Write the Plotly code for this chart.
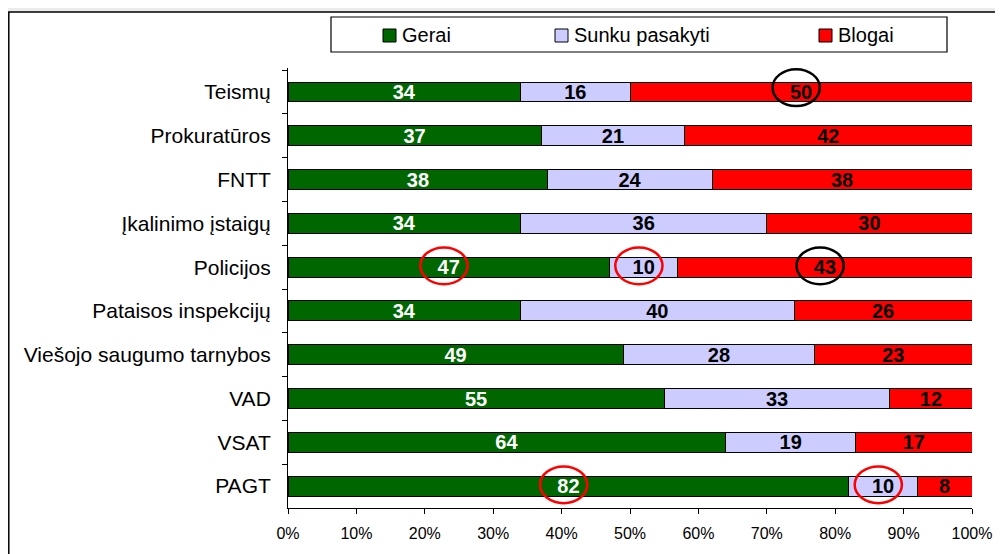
import plotly.graph_objects as go

# data
kategorijos = ['Teismų', 'Prokuratūros', 'FNTT', 'Įkalinimo įstaigų', 'Policijos',
               'Pataisos inspekcijų', 'Viešojo saugumo tarnybos', 'VAD', 'VSAT', 'PAGT']
gerai = [34, 37, 38, 34, 47, 34, 49, 55, 64, 82]
sunku = [16, 21, 24, 36, 10, 40, 28, 33, 19, 10]
blogai = [50, 42, 38, 30, 43, 26, 23, 12, 17, 8]
serijos = ['Gerai', 'Sunku pasakyti', 'Blogai']
spalvos = ['#006600', '#CCCCFF', '#FF0000']
teksto_spalvos = ['white', 'black', 'black']
x_ticks = [0, 10, 20, 30, 40, 50, 60, 70, 80, 90, 100]
x_labels = ['0%', '10%', '20%', '30%', '40%', '50%', '60%', '70%', '80%', '90%', '100%']

# circled values: (category, series index, ring colour)
apvesti = [('Teismų', 2, 'black'), ('Policijos', 0, 'red'), ('Policijos', 1, 'red'),
           ('Policijos', 2, 'black'), ('PAGT', 0, 'red'), ('PAGT', 1, 'red')]

FONT = 'Liberation Sans, Arial, sans-serif'
W, H = 1003, 554
OFF = 8  # the page body margin shifts the figure by 8px
L, T = 288 - OFF, 68 - OFF
R, B = W - (972 - OFF), H - (508 - OFF)
pw, ph = W - L - R, H - T - B


# page pixel -> paper coordinates
def px_x(p):
    return (p - OFF - L) / pw


def px_y(p):
    return (H - B - (p - OFF)) / ph


fig = go.Figure()
visos = [gerai, sunku, blogai]
for vardas, reiksmes, sp, ts in zip(serijos, visos, spalvos, teksto_spalvos):
    fig.add_trace(go.Bar(
        y=kategorijos, x=reiksmes, name=vardas, orientation='h',
        marker=dict(color=sp, line=dict(color='black', width=1)),
        text=reiksmes, texttemplate='<b>%{text}</b>', textposition='inside',
        insidetextanchor='middle', textangle=0,
        textfont=dict(family=FONT, size=20, color=ts),
        showlegend=False, hoverinfo='skip'))

shapes = []
# grey strip above the frame and the frame itself
shapes.append(dict(type='rect', xref='paper', yref='paper', layer='below',
                   x0=px_x(0), x1=px_x(1020), y0=px_y(0), y1=px_y(12),
                   fillcolor='#ebebeb', line=dict(width=0)))
shapes.append(dict(type='rect', xref='paper', yref='paper', layer='below',
                   x0=px_x(8.8), x1=px_x(1020), y0=px_y(570), y1=px_y(12),
                   fillcolor='white', line=dict(color='black', width=1.5)))

# legend box drawn by hand
shapes.append(dict(type='rect', xref='paper', yref='paper',
                   x0=px_x(331), x1=px_x(947), y0=px_y(52), y1=px_y(17),
                   fillcolor='white', line=dict(color='black', width=1.2)))
annotations = []
leg_x = [383, 555, 819]
for xs, vardas, sp in zip(leg_x, serijos, spalvos):
    shapes.append(dict(type='rect', xref='paper', yref='paper',
                       x0=px_x(xs), x1=px_x(xs + 13), y0=px_y(42), y1=px_y(29),
                       fillcolor=sp, line=dict(color='black', width=1)))
    annotations.append(dict(text=vardas, xref='paper', yref='paper',
                            x=px_x(xs + 17), y=px_y(35.5), xanchor='left', yanchor='middle',
                            showarrow=False, font=dict(family=FONT, size=20, color='black')))

# ellipses around highlighted values
for kat, si, sp in apvesti:
    i = kategorijos.index(kat)
    pradzia = sum(visos[k][i] for k in range(si))
    cx = pradzia + visos[si][i] / 2 - 0.7
    cy = i - (0.1 if i == 0 else 0.03)
    shapes.append(dict(type='circle', xref='x', yref='y',
                       x0=cx - 3.45, x1=cx + 3.45, y0=cy - 0.42, y1=cy + 0.42,
                       line=dict(color=sp, width=2.5)))

fig.update_layout(
    barmode='stack', bargap=0.545,
    width=W, height=H,
    margin=dict(l=L, r=R, t=T, b=B),
    paper_bgcolor='white', plot_bgcolor='rgba(0,0,0,0)',
    font=dict(family=FONT, color='black'),
    uniformtext=dict(minsize=20, mode='show'),
    shapes=shapes, annotations=annotations,
    xaxis=dict(range=[0, 100], tickvals=x_ticks, ticktext=x_labels,
               ticks='outside', ticklen=5, tickcolor='black',
               showline=True, linecolor='black', linewidth=1,
               showgrid=False, zeroline=False,
               tickfont=dict(family=FONT, size=16), ticklabelstandoff=6),
    yaxis=dict(type='category', categoryorder='array', categoryarray=kategorijos,
               autorange='reversed', ticks='outside', tickson='boundaries',
               ticklen=5, tickcolor='black', showline=True, linecolor='black',
               linewidth=1, showgrid=False,
               tickfont=dict(family=FONT, size=21), ticklabelstandoff=12),
)

fig.write_html('out.html')
